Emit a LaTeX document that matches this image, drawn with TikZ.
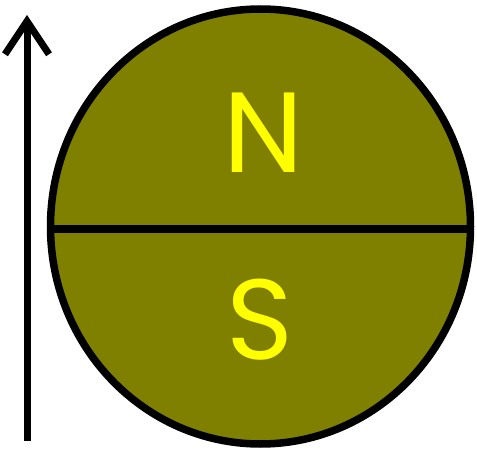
\documentclass[tikz,border=0pt]{standalone}
\usepackage{fontspec}
\setmainfont{Poppins}
\usetikzlibrary{arrows.meta}
\definecolor{olivefill}{RGB}{128,128,0}
\definecolor{letteryellow}{RGB}{255,255,0}
\tikzset{
  outline/.style={line width=7.5pt, draw=black},
  pole/.style={text=letteryellow, font=\fontsize{114}{114}\selectfont, inner sep=0pt, anchor=center},
  axisarrow/.style={line width=7pt, -{Straight Barb[length=33pt, width=44pt, line width=7pt]}}
}
\begin{document}
\begin{tikzpicture}[x=1pt, y=-1pt]
\useasboundingbox (0,0) rectangle (477,452);
\filldraw[outline, fill=olivefill] (260.5,226.5) ellipse [x radius=210, y radius=217.5];
\draw[outline] (51,229) -- (470,229);
\node[pole] (n) at (264,133) {N};
\node[pole] (s) at (260,320) {S};
\coordinate (abot) at (27,441);
\coordinate (atop) at (27,15);
\draw[axisarrow] (abot) -- (atop);
\end{tikzpicture}
\end{document}
